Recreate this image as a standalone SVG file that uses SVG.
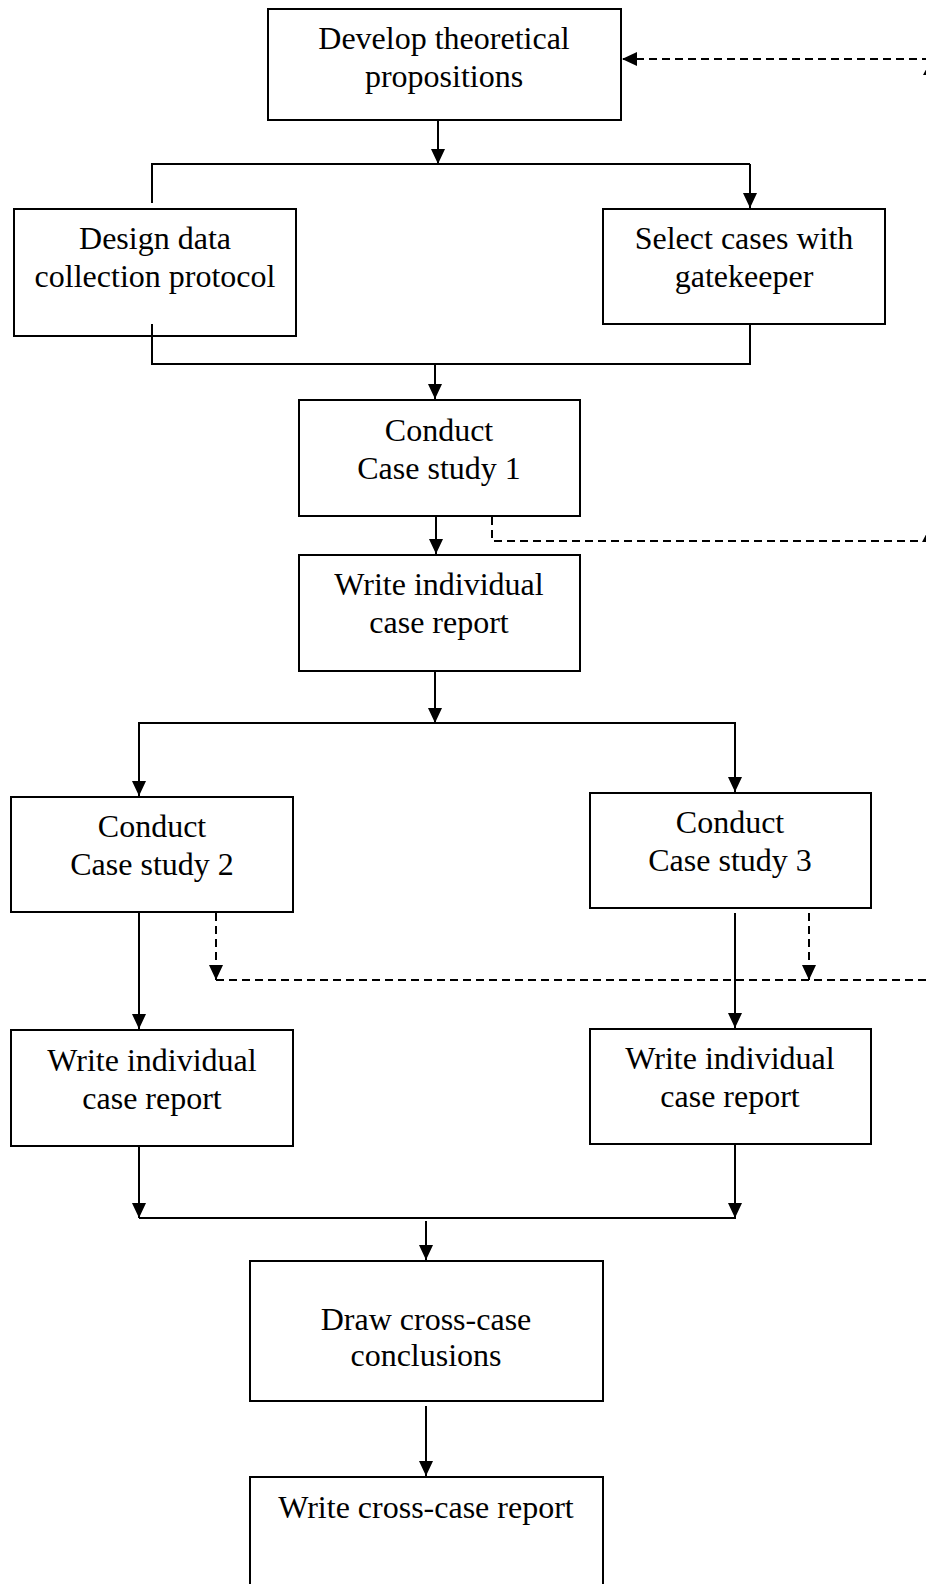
<svg xmlns="http://www.w3.org/2000/svg" width="926" height="1584" viewBox="0 0 926 1584">
  <defs>
    <style>
      .box { fill: #ffffff; stroke: #000000; stroke-width: 2; }
      .label { font-family: "Liberation Serif", "Times New Roman", serif; font-size: 32px; fill: #000000; text-anchor: middle; }
      .link { fill: none; stroke: #000000; stroke-width: 2; }
      .dash { fill: none; stroke: #000000; stroke-width: 2; stroke-dasharray: 8 5; }
      .head { fill: #000000; stroke: none; }
    </style>
    <marker id="arrow" viewBox="0 0 15 14" refX="15" refY="7" markerWidth="15" markerHeight="14" markerUnits="userSpaceOnUse" orient="auto">
      <path d="M0,0 L15,7 L0,14 Z" class="head"/>
    </marker>
  </defs>

  <rect width="926" height="1584" fill="#ffffff"/>

  <!-- nodes -->
  <g id="develop-propositions">
    <rect class="box" x="268" y="9" width="353" height="111"/>
    <text class="label" x="444" y="49">Develop theoretical</text>
    <text class="label" x="444" y="87">propositions</text>
  </g>

  <g id="design-protocol">
    <rect class="box" x="14" y="209" width="282" height="127"/>
    <text class="label" x="155" y="249">Design data</text>
    <text class="label" x="155" y="287">collection protocol</text>
  </g>

  <g id="select-cases">
    <rect class="box" x="603" y="209" width="282" height="115"/>
    <text class="label" x="744" y="249">Select cases with</text>
    <text class="label" x="744" y="287">gatekeeper</text>
  </g>

  <g id="case-study-1">
    <rect class="box" x="299" y="400" width="281" height="116"/>
    <text class="label" x="439" y="441">Conduct</text>
    <text class="label" x="439" y="479">Case study 1</text>
  </g>

  <g id="case-report-1">
    <rect class="box" x="299" y="555" width="281" height="116"/>
    <text class="label" x="439" y="595">Write individual</text>
    <text class="label" x="439" y="633">case report</text>
  </g>

  <g id="case-study-2">
    <rect class="box" x="11" y="797" width="282" height="115"/>
    <text class="label" x="152" y="837">Conduct</text>
    <text class="label" x="152" y="875">Case study 2</text>
  </g>

  <g id="case-study-3">
    <rect class="box" x="590" y="793" width="281" height="115"/>
    <text class="label" x="730" y="833">Conduct</text>
    <text class="label" x="730" y="871">Case study 3</text>
  </g>

  <g id="case-report-2">
    <rect class="box" x="11" y="1030" width="282" height="116"/>
    <text class="label" x="152" y="1071">Write individual</text>
    <text class="label" x="152" y="1109">case report</text>
  </g>

  <g id="case-report-3">
    <rect class="box" x="590" y="1029" width="281" height="115"/>
    <text class="label" x="730" y="1069">Write individual</text>
    <text class="label" x="730" y="1107">case report</text>
  </g>

  <g id="cross-case-conclusions">
    <rect class="box" x="250" y="1261" width="353" height="140"/>
    <text class="label" x="426" y="1330">Draw cross-case</text>
    <text class="label" x="426" y="1366">conclusions</text>
  </g>

  <g id="cross-case-report">
    <rect class="box" x="250" y="1477" width="353" height="130"/>
    <text class="label" x="426" y="1518">Write cross-case report</text>
  </g>

  <!-- connectors (drawn on top so the merge line shows inside the design box) -->
  <g id="connectors">
    <!-- propositions split to design / selection -->
    <path class="link" d="M438,121 V164" marker-end="url(#arrow)"/>
    <path class="link" d="M152,203 V164 H750"/>
    <path class="link" d="M750,164 V208" marker-end="url(#arrow)"/>
    <!-- design / selection merge into case study 1 -->
    <path class="link" d="M152,324 V364 H750 V325"/>
    <path class="link" d="M435,364 V399" marker-end="url(#arrow)"/>
    <!-- case study 1 to report -->
    <path class="link" d="M436,517 V554" marker-end="url(#arrow)"/>
    <!-- report split to case studies 2 and 3 -->
    <path class="link" d="M435,671 V723" marker-end="url(#arrow)"/>
    <path class="link" d="M139,796 V723 H735 V792" marker-end="url(#arrow)"/>
    <path class="link" d="M139,724 V796" marker-end="url(#arrow)"/>
    <!-- case studies to their reports -->
    <path class="link" d="M139,913 V1029" marker-end="url(#arrow)"/>
    <path class="link" d="M735,913 V1028" marker-end="url(#arrow)"/>
    <!-- reports merge into cross-case conclusions -->
    <path class="link" d="M139,1147 V1218" marker-end="url(#arrow)"/>
    <path class="link" d="M735,1145 V1218" marker-end="url(#arrow)"/>
    <path class="link" d="M139,1218 H736"/>
    <path class="link" d="M426,1221 V1260" marker-end="url(#arrow)"/>
    <path class="link" d="M426,1406 V1476" marker-end="url(#arrow)"/>

    <!-- feedback loop (dashed) -->
    <path class="dash" d="M930,59 H622" marker-end="url(#arrow)"/>
    <path class="dash" d="M492,517 V541 H930"/>
    <path class="dash" d="M216,913 V980" marker-end="url(#arrow)"/>
    <path class="dash" d="M809,913 V980" marker-end="url(#arrow)"/>
    <path class="dash" d="M216,980 H930"/>
    <path class="dash" d="M931,980 V75"/>
    <path class="head" d="M931,60 L938,75 L923,75 Z"/>
    <path class="head" d="M930,527 L937,542 L922,542 Z"/>
  </g>
</svg>
